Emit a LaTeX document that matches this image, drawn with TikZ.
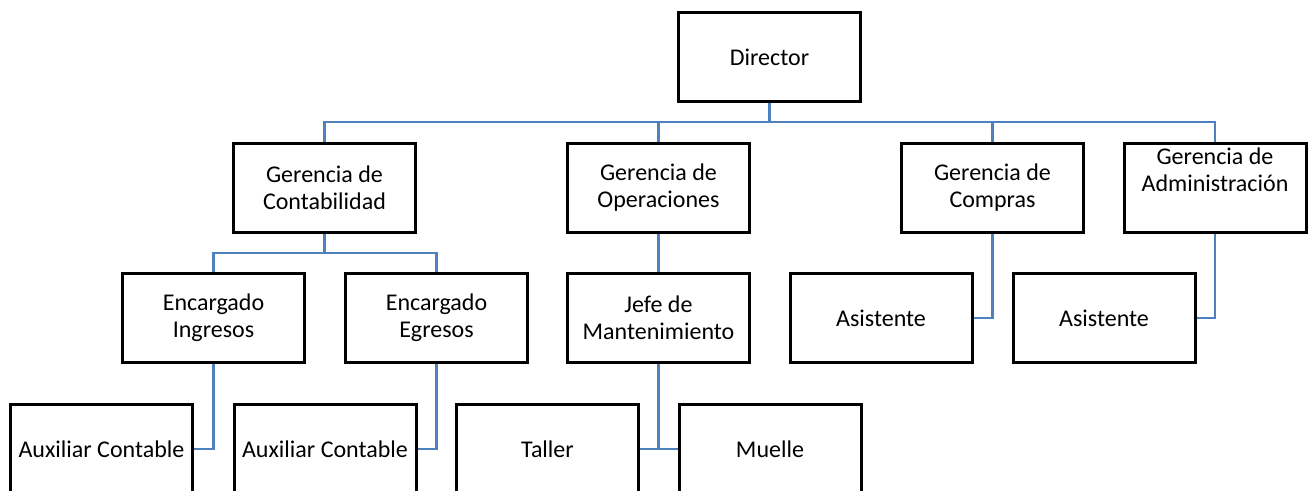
\documentclass[tikz,border=0pt]{standalone}
\usepackage{fontspec}
\setmainfont{Carlito}
\usepackage{tikz}
\definecolor{orgblue}{RGB}{79,129,189}

\begin{document}
\begin{tikzpicture}[x=0.5pt,y=-0.5pt,
  every node/.style={font=\fontsize{12}{13.5}\selectfont},
  box/.style={draw=black,fill=white,line width=1.5pt,align=center,inner sep=2pt,minimum width=91pt,minimum height=44.5pt},
  link/.style={draw=orgblue,line width=1.2pt}]
\useasboundingbox (0,0) rectangle (1312,491);
\node[box] (dir) at (769.5,57) {Director};
\node[box] (gcon) at (324.5,188) {Gerencia de\\Contabilidad};
\node[box] (gope) at (658.5,188) {Gerencia de\\Operaciones};
\node[box] (gcom) at (992.5,188) {Gerencia de\\Compras};
\node[box] (gadm) at (1215,188.5) {Gerencia de\\Administración\\[5pt]\mbox{}};
\node[box] (eing) at (213.5,318) {Encargado\\Ingresos};
\node[box] (eegr) at (436.5,318) {Encargado\\Egresos};
\node[box] (jman) at (658.5,318) {Jefe de\\Mantenimiento};
\node[box] (asi1) at (881,318) {Asistente};
\node[box] (asi2) at (1104,318) {Asistente};
\node[box] (aux1) at (101.5,449) {Auxiliar Contable};
\node[box] (aux2) at (325,449) {Auxiliar Contable};
\node[box] (tall) at (547.5,449) {Taller};
\node[box] (muel) at (770,449) {Muelle};
\foreach \x in {gcon,gope,gcom,gadm} \draw[link] (dir.south) -- ++(0,19) -| (\x.north);
\foreach \x in {eing,eegr} \draw[link] (gcon.south) -- ++(0,19) -| (\x.north);
\draw[link] (gope.south) -- (jman.north);
\draw[link] (gcom.south) |- (asi1.east);
\draw[link] (gadm.south) |- (asi2.east);
\draw[link] (eing.south) |- (aux1.east);
\draw[link] (eegr.south) |- (aux2.east);
\draw[link] (jman.south) |- (tall.east);
\draw[link] (jman.south) |- (muel.west);
\end{tikzpicture}
\end{document}
